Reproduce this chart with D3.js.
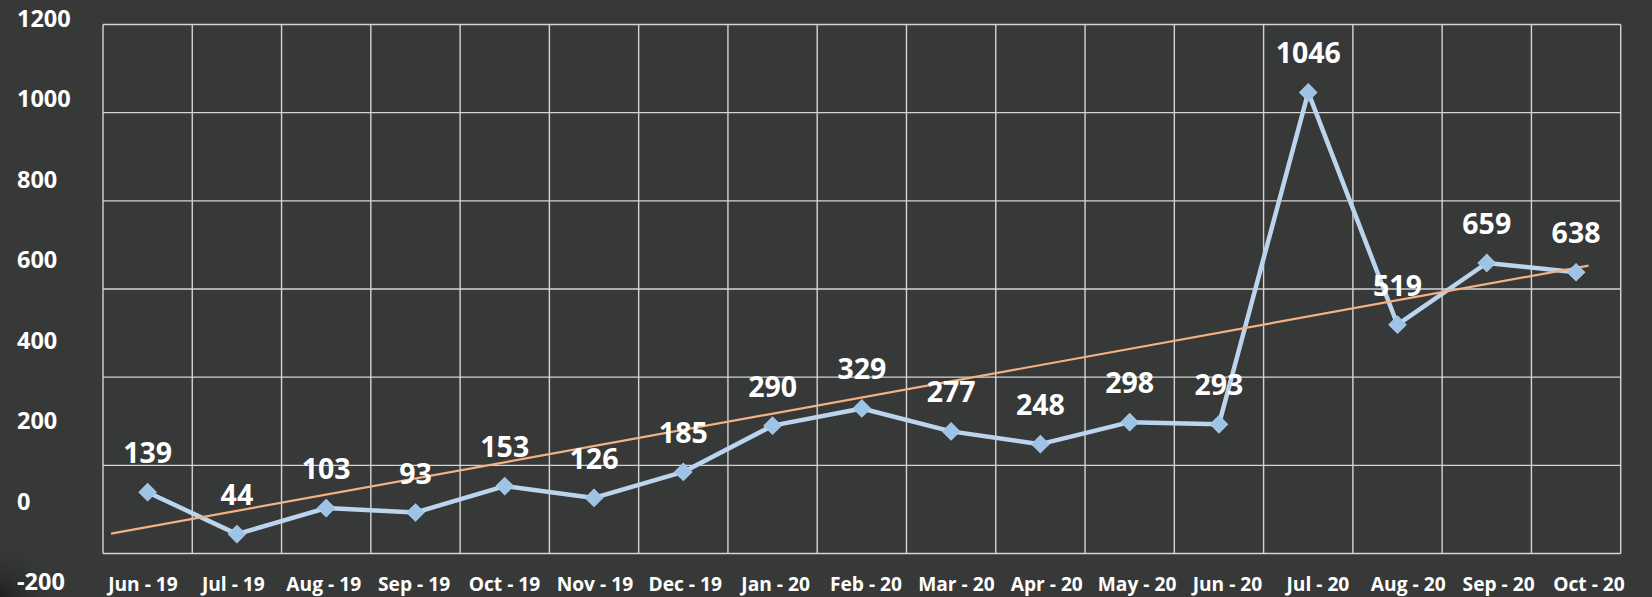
<!DOCTYPE html>
<html>
<head>
<meta charset="utf-8">
<script src="https://cdn.jsdelivr.net/npm/d3@7"></script>
<style>
  html, body { margin: 0; padding: 0; background: #373838; }
  svg { display: block; }
</style>
</head>
<body>
<div id="chart"></div>
<script>
// data
var months = ["Jun - 19", "Jul - 19", "Aug - 19", "Sep - 19", "Oct - 19", "Nov - 19", "Dec - 19",
    "Jan - 20", "Feb - 20", "Mar - 20", "Apr - 20", "May - 20", "Jun - 20", "Jul - 20",
    "Aug - 20", "Sep - 20", "Oct - 20"];
var values = [139, 44, 103, 93, 153, 126, 185, 290, 329, 277, 248, 298, 293, 1046, 519, 659, 638];
var yTicks = [-200, 0, 200, 400, 600, 800, 1000, 1200];
var gridTicks = [0, 200, 400, 600, 800, 1000, 1200];
// trend line ends, as [month index, value]
var trendEnds = [[-0.41, 45], [16.14, 653]];

var width = 1652,
    height = 597,
    plot = { left: 103, right: 1620.7, top: 24.5, bottom: 553.5 };

var svg = d3.select("#chart").append("svg")
    .attr("width", width)
    .attr("height", height)
    .style("font-family", "'Open Sans', sans-serif")
    .style("font-weight", "bold");

svg.append("rect")
    .attr("width", width)
    .attr("height", height)
    .attr("fill", "#373838");

// soft dark corner bottom-left
var defs = svg.append("defs");
var rg = defs.append("radialGradient").attr("id", "corner")
    .attr("cx", 0).attr("cy", 1).attr("r", 1);
rg.append("stop").attr("offset", "0%").attr("stop-color", "#1c1c1c").attr("stop-opacity", 0.9);
rg.append("stop").attr("offset", "100%").attr("stop-color", "#373838").attr("stop-opacity", 0);
svg.append("rect")
    .attr("x", 0).attr("y", 537)
    .attr("width", 60).attr("height", 60)
    .attr("fill", "url(#corner)");

var x = d3.scaleBand()
    .domain(months)
    .range([plot.left, plot.right])
    .padding(0);

// the category labels sit on a slightly wider spacing than the columns
var xLabel = d3.scaleBand()
    .domain(months)
    .range([97.8, 1634.2])
    .padding(0);

var y = d3.scaleLinear()
    .domain([0, 1200])
    .range([plot.bottom, plot.top]);

// value-axis labels are spread a bit tighter than the gridlines
var yLabel = d3.scaleLinear()
    .domain([-200, 1200])
    .range([590, 26.7]);

var xi = d3.scaleLinear()
    .domain([0, months.length - 1])
    .range([x(months[0]) + x.bandwidth() / 2, x(months[months.length - 1]) + x.bandwidth() / 2]);

// grid
var grid = svg.append("g")
    .attr("stroke", "#d4d4d4")
    .attr("stroke-width", 1.4)
    .attr("fill", "none");

grid.selectAll("line.h")
    .data(gridTicks)
    .enter().append("line")
    .attr("class", "h")
    .attr("x1", plot.left)
    .attr("x2", plot.right)
    .attr("y1", function (d) { return y(d); })
    .attr("y2", function (d) { return y(d); });

grid.selectAll("line.v")
    .data(months.concat(["end"]))
    .enter().append("line")
    .attr("class", "v")
    .attr("x1", function (d, i) { return i < months.length ? x(d) : plot.right; })
    .attr("x2", function (d, i) { return i < months.length ? x(d) : plot.right; })
    .attr("y1", plot.top)
    .attr("y2", plot.bottom);

// y labels
svg.append("g")
    .attr("fill", "#ffffff")
    .attr("font-size", 23.5)
    .selectAll("text")
    .data(yTicks)
    .enter().append("text")
    .attr("x", 17)
    .attr("y", function (d) { return yLabel(d); })
    .text(function (d) { return d; });

// x labels
svg.append("g")
    .attr("fill", "#ffffff")
    .attr("font-size", 19.2)
    .attr("text-anchor", "middle")
    .selectAll("text")
    .data(months)
    .enter().append("text")
    .attr("x", function (d) { return xLabel(d) + xLabel.bandwidth() / 2; })
    .attr("y", 591)
    .text(function (d) { return d; });

// series line
var line = d3.line()
    .x(function (d, i) { return xi(i); })
    .y(function (d) { return y(d); });

svg.append("path")
    .datum(values)
    .attr("fill", "none")
    .attr("stroke", "#bcd5ee")
    .attr("stroke-width", 4.5)
    .attr("stroke-linejoin", "round")
    .attr("d", line);

// trend line
svg.append("path")
    .datum(trendEnds)
    .attr("fill", "none")
    .attr("stroke", "#f4b183")
    .attr("stroke-width", 2.2)
    .attr("d", d3.line()
        .x(function (d) { return xi(d[0]); })
        .y(function (d) { return y(d[1]); }));

// markers
svg.append("g")
    .selectAll("path")
    .data(values)
    .enter().append("path")
    .attr("d", d3.symbol().type(d3.symbolSquare).size(150))
    .attr("transform", function (d, i) {
        return "translate(" + xi(i) + "," + y(d) + ") rotate(45)";
    })
    .attr("fill", "#9dc3e6")
    .attr("stroke", "#a8c9e8")
    .attr("stroke-width", 1);

// value labels
svg.append("g")
    .attr("fill", "#ffffff")
    .attr("font-size", 28.5)
    .attr("text-anchor", "middle")
    .selectAll("text")
    .data(values)
    .enter().append("text")
    .attr("x", function (d, i) { return xi(i); })
    .attr("y", function (d) { return y(d) - 29; })
    .text(function (d) { return d; });
</script>
</body>
</html>
